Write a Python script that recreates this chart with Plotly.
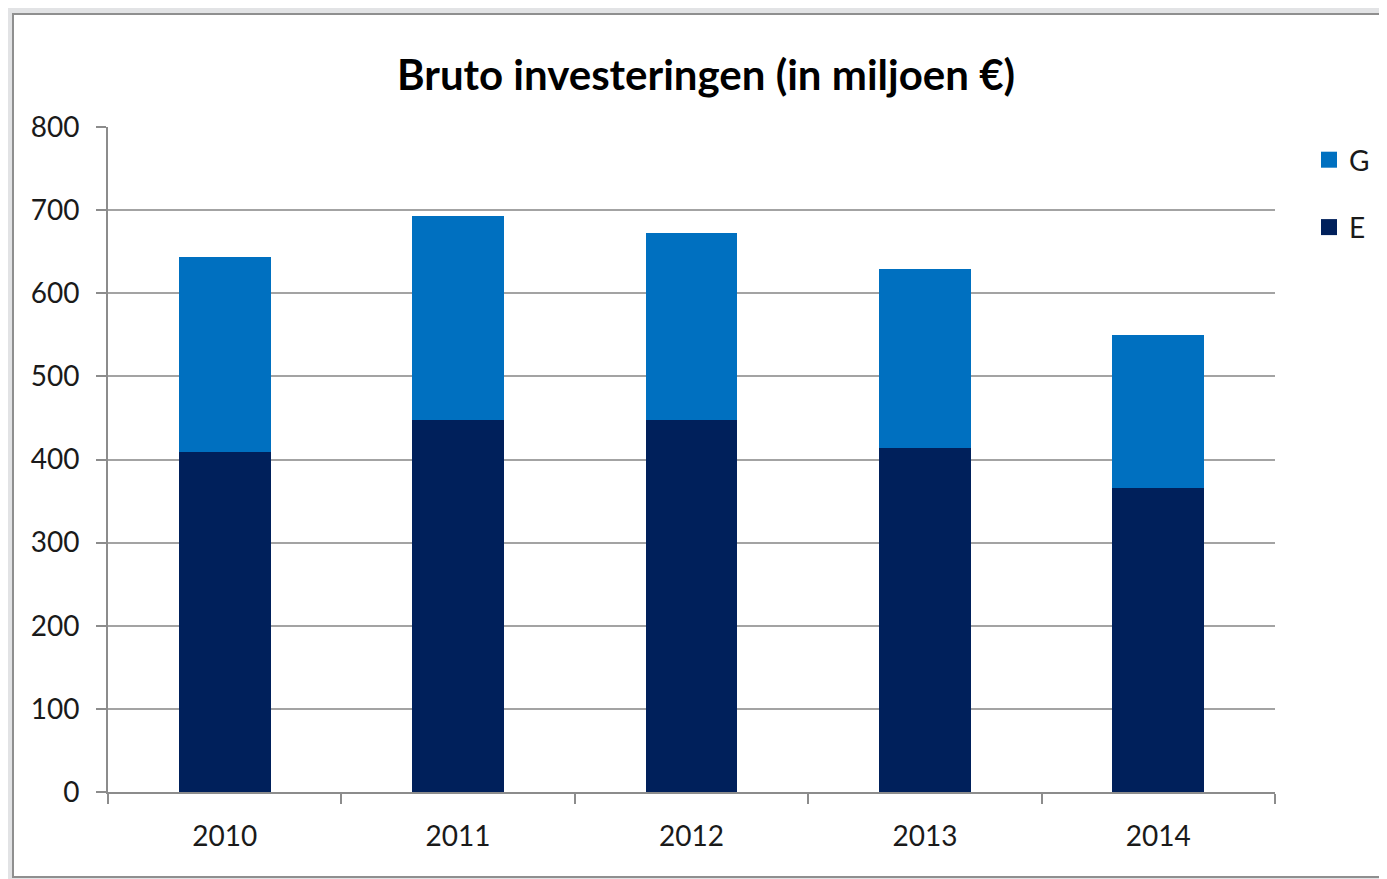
import plotly.graph_objects as go

years = ["2010", "2011", "2012", "2013", "2014"]
e_values = [409, 447, 447, 414, 366]
g_values = [235, 246, 225, 215, 184]
y_ticks = [0, 100, 200, 300, 400, 500, 600, 700, 800]
series_names = ["E", "G"]
series_colors = ["#00205B", "#0070C0"]

# page body adds an 8px offset; positions below are screen px minus 8
OFF = 8
W, H = 1387, 879
L, T = 108 - OFF, 127 - OFF
R = W - (1275 - OFF)
B = H - (792 - OFF)
pw, ph = W - L - R, H - T - B

def px_x(x):
    return (x - OFF - L) / pw

def px_y(y):
    return (H - B - (y - OFF)) / ph

font = "Lato, 'Open Sans', sans-serif"

fig = go.Figure()
for name, vals, col in zip(series_names, [e_values, g_values], series_colors):
    fig.add_trace(go.Bar(x=years, y=vals, name=name, marker=dict(color=col, line=dict(width=0)),
                         showlegend=False))
# legend entries with larger square swatches (G listed above E)
for name, col in reversed(list(zip(series_names, series_colors))):
    fig.add_trace(go.Scatter(x=[None], y=[None], mode="markers", name=name, legendgroup=name,
                             marker=dict(symbol="square", size=18, color=col)))

fig.update_layout(
    width=W, height=H,
    margin=dict(l=L, r=R, t=T, b=B),
    barmode="stack",
    bargap=0.606,
    paper_bgcolor="#e2e3e5",
    plot_bgcolor="rgba(0,0,0,0)",
    font=dict(family=font, size=28, color="#1a1a1a"),
    title=dict(text="<b>Bruto investeringen (in miljoen €)</b>", x=(706 - OFF) / W, xref="container",
               xanchor="center", y=1 - (75 - OFF) / H, yref="container", yanchor="middle",
               font=dict(family=font, size=42, color="#000000")),
    legend=dict(x=px_x(1309), y=px_y(135), xanchor="left", yanchor="top", traceorder="grouped",
                tracegroupgap=28, itemwidth=30, font=dict(size=28, color="#1a1a1a"),
                bgcolor="rgba(0,0,0,0)"),
    showlegend=True,
    shapes=[dict(type="rect", xref="paper", yref="paper", layer="below",
                 x0=px_x(13), x1=px_x(1420), y0=px_y(877), y1=px_y(14),
                 fillcolor="white", line=dict(color="#8f8f8f", width=2))],
)

fig.update_xaxes(showgrid=False, showline=True, linecolor="#8c8c8c", linewidth=2,
                 ticks="outside", tickson="boundaries", ticklen=10, tickcolor="#8c8c8c", tickwidth=2,
                 tickfont=dict(size=28, color="#1a1a1a"), ticklabelstandoff=18)
fig.update_yaxes(range=[0, 800], tickvals=y_ticks, showgrid=True, gridcolor="#a3a3a3", gridwidth=2,
                 showline=True, linecolor="#8c8c8c", linewidth=2, zeroline=False,
                 ticks="outside", ticklen=10, tickcolor="#8c8c8c", tickwidth=2,
                 tickfont=dict(size=28, color="#1a1a1a"), ticklabelstandoff=11)

fig.write_html("out.html")
